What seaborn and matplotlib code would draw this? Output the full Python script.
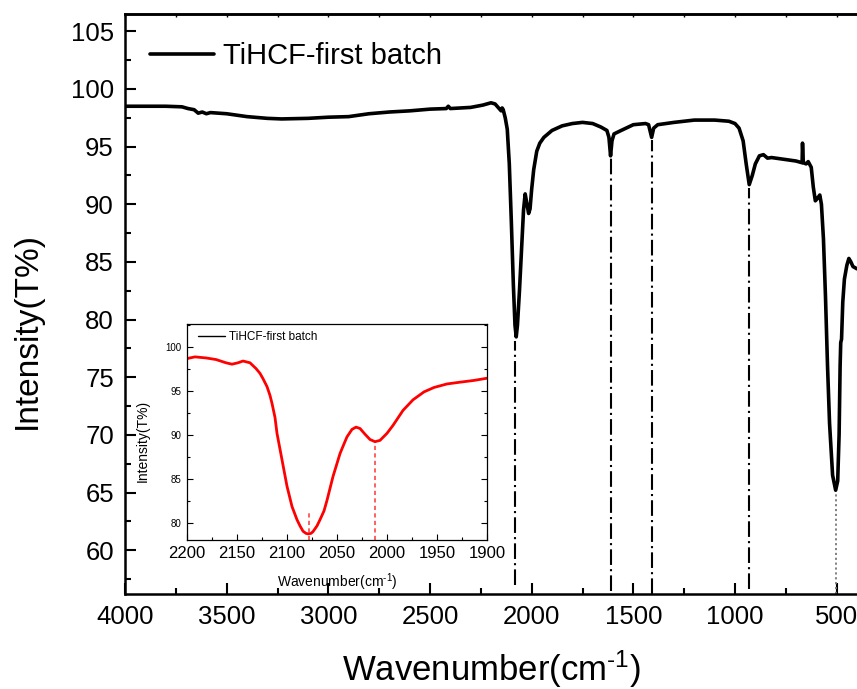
import matplotlib
matplotlib.use("Agg")
import matplotlib.pyplot as plt
import seaborn as sns
import pandas as pd
from matplotlib.lines import Line2D
from matplotlib.ticker import MultipleLocator

sns.set_style("ticks")
plt.rcParams['font.family'] = ['Liberation Sans', 'DejaVu Sans']
plt.rcParams['mathtext.fontset'] = 'custom'
plt.rcParams['mathtext.rm'] = 'Liberation Sans'
plt.rcParams['mathtext.it'] = 'Liberation Sans'
for key in ['text.color', 'axes.labelcolor', 'xtick.color', 'ytick.color', 'axes.edgecolor']:
    plt.rcParams[key] = 'black'

# ---- main spectrum (wavenumber, transmittance %) ----
wavenumber = [4000, 3800, 3720, 3690, 3660, 3640, 3620, 3600, 3580, 3500, 3400, 3300, 3230,
              3100, 3000, 2900, 2800, 2700, 2600, 2500, 2420, 2410, 2400, 2300, 2240, 2200,
              2180, 2160, 2150, 2145, 2140, 2130, 2120, 2110, 2100, 2090, 2082, 2076, 2070,
              2060, 2050, 2040, 2032, 2025, 2015, 2008, 2000, 1990, 1975, 1960, 1940, 1900,
              1850, 1800, 1750, 1700, 1660, 1630, 1620, 1612, 1605, 1595, 1560, 1500, 1440,
              1425, 1410, 1400, 1380, 1300, 1200, 1100, 1030, 1000, 980, 960, 945, 930, 915,
              900, 880, 860, 840, 820, 760, 700, 670, 668, 664, 650, 640, 625, 615, 605, 595,
              583, 575, 565, 555, 545, 535, 520, 505, 495, 488, 483, 480, 476, 470, 462, 450,
              440, 430, 420, 400]
transmittance = [98.5, 98.5, 98.45, 98.3, 98.2, 97.9, 98.0, 97.85, 97.95, 97.85, 97.6, 97.45, 97.4,
                 97.45, 97.55, 97.6, 97.85, 98.0, 98.1, 98.25, 98.3, 98.5, 98.3, 98.4, 98.6, 98.8,
                 98.7, 98.3, 98.1, 98.35, 98.2, 97.5, 96.5, 93.5, 88.5, 83.0, 79.5, 78.5, 79.5,
                 82.5, 86.0, 89.5, 90.9, 90.2, 89.2, 89.6, 91.3, 93.0, 94.6, 95.3, 95.8, 96.4,
                 96.8, 97.0, 97.1, 97.0, 96.7, 96.4, 95.8, 94.2, 95.5, 96.1, 96.4, 96.9, 97.0,
                 96.9, 95.8, 96.6, 96.9, 97.1, 97.3, 97.3, 97.2, 97.0, 96.6, 95.5, 93.5, 91.7, 92.5,
                 93.5, 94.2, 94.3, 94.0, 94.05, 93.9, 93.75, 93.6, 95.3, 93.6, 93.5, 93.7, 93.2, 91.5, 90.3, 90.5,
                 90.8, 90.0, 87.0, 82.0, 76.0, 71.0, 66.5, 65.2, 66.0, 70.0, 76.0, 78.0, 78.3, 81.5, 83.5, 84.7,
                 85.3, 85.0, 84.6, 84.4]

# ---- inset: zoom of the 2200-1900 cm-1 region ----
inset_wavenumber = [2200, 2192, 2181, 2171, 2161, 2155, 2149, 2144, 2137, 2131, 2127, 2124, 2120,
                    2117, 2115, 2112, 2110, 2105, 2100, 2095, 2090, 2087, 2084, 2081, 2079, 2076,
                    2074, 2070, 2067, 2063, 2060, 2054, 2047, 2043, 2040, 2035, 2031, 2027, 2022,
                    2017, 2012, 2007, 2000, 1994, 1984, 1974, 1963, 1953, 1940, 1927, 1913, 1900]
inset_transmittance = [98.68, 98.87, 98.75, 98.57, 98.2, 98.04, 98.2, 98.4, 98.2, 97.55, 97.0, 96.4, 95.5,
                       94.5, 93.6, 92.0, 90.2, 87.2, 84.2, 81.9, 80.4, 79.7, 79.1, 78.85, 78.8, 78.85,
                       79.05, 79.7, 80.4, 81.4, 82.6, 85.3, 87.9, 89.0, 89.8, 90.65, 90.9, 90.75, 90.1,
                       89.5, 89.25, 89.4, 90.2, 91.1, 92.8, 94.0, 94.9, 95.4, 95.8, 96.0, 96.2, 96.45]

# marked bands in the main plot (position, top of marker line)
band_positions = [2080, 1610, 1408, 929]
band_tops = [78.1, 94.0, 95.6, 91.4]
band_bottoms = [57.0, 56.5, 56.2, 56.6]
far_band_position = 503
far_band_top = 65.0

# marked bands in the inset
inset_band_positions = [2078, 2012]
inset_band_tops = [81.2, 89.0]

series_label = "TiHCF-first batch"
xlabel_text = r"Wavenumber(cm$^{\text{-1}}$)"

df_main = pd.DataFrame({"wn": wavenumber, "T": transmittance})
df_inset = pd.DataFrame({"wn": inset_wavenumber, "T": inset_transmittance})

fig = plt.figure(figsize=(8.57, 6.89), dpi=100)
ax = fig.add_axes([125 / 857, 1 - 594 / 689, 1 - 125 / 857, (594 - 14) / 689])

sns.lineplot(data=df_main, x="wn", y="T", ax=ax, color="black", lw=2.6,
             estimator=None, sort=False, legend=False)

dash = (7.5, 2, 1, 2)
for pos, top, bot in zip(band_positions, band_tops, band_bottoms):
    ax.vlines(pos, bot, top, colors="black", lw=1.5, linestyles=[(0, dash)])
ax.vlines(far_band_position, 56.2, far_band_top, colors="#777777", lw=1.3,
          linestyles=[(0, (1.2, 1.5))])

ax.set_xlim(4000, 400)
ax.set_ylim(56.2, 106.5)
ax.xaxis.set_major_locator(MultipleLocator(500))
ax.xaxis.set_minor_locator(MultipleLocator(250))
ax.yaxis.set_major_locator(MultipleLocator(5))
ax.yaxis.set_minor_locator(MultipleLocator(2.5))
ax.tick_params(which="major", direction="in", length=8, width=1.5, labelsize=18.5, pad=8)
ax.tick_params(which="minor", direction="in", length=4, width=1.5)
for side in ["left", "bottom", "top"]:
    ax.spines[side].set_linewidth(1.8)
ax.spines["right"].set_visible(False)
sec = ax.secondary_xaxis("top")
sec.xaxis.set_major_locator(MultipleLocator(250))
sec.tick_params(direction="in", length=2.5, width=1.0, labeltop=False)
sec.spines["top"].set_linewidth(1.8)

ax.set_xlabel(xlabel_text, fontsize=25, labelpad=14)
ax.set_ylabel("Intensity(T%)", fontsize=24)
ax.yaxis.set_label_coords(-0.112, 0.455)

ax.legend(handles=[Line2D([], [], color="black", lw=2.6)], labels=[series_label],
          loc="center left", bbox_to_anchor=(0.034, 0.928), frameon=False,
          fontsize=21, handlelength=2.2, handletextpad=0.3, borderpad=0, borderaxespad=0)

# ---- inset ----
axin = fig.add_axes([187 / 857, 1 - 540 / 689, 300 / 857, 216 / 689])
axin.set_facecolor("white")
sns.lineplot(data=df_inset, x="wn", y="T", ax=axin, color="#ff0000", lw=2.0,
             estimator=None, sort=False, legend=False)
for pos, top in zip(inset_band_positions, inset_band_tops):
    axin.vlines(pos, 78.1, top, colors="#ff4444", lw=1.2, linestyles=[(0, (2.5, 2))])
axin.set_xlim(2200, 1900)
axin.set_ylim(78.1, 102.6)
axin.xaxis.set_major_locator(MultipleLocator(50))
axin.xaxis.set_minor_locator(MultipleLocator(25))
axin.yaxis.set_major_locator(MultipleLocator(5))
axin.yaxis.set_minor_locator(MultipleLocator(2.5))
axin.tick_params(axis="x", which="major", direction="in", length=4, width=0.8, labelsize=12, pad=4)
axin.tick_params(axis="y", which="major", direction="in", length=4, width=0.8, labelsize=7,
                 right=True, pad=4)
axin.tick_params(which="minor", direction="in", length=2, width=0.8, right=True)
for s in axin.spines.values():
    s.set_linewidth(0.9)
axin.set_xlabel(xlabel_text, fontsize=10, labelpad=8)
axin.set_ylabel("Intensity(T%)", fontsize=10)
axin.yaxis.set_label_coords(-0.123, 0.46)
axin.legend(handles=[Line2D([], [], color="black", lw=1.0)], labels=[series_label],
            loc="center left", bbox_to_anchor=(0.035, 0.94), frameon=False,
            fontsize=8.5, handlelength=2.3, handletextpad=0.4, borderpad=0, borderaxespad=0)

fig.savefig("out.png", dpi=100)
